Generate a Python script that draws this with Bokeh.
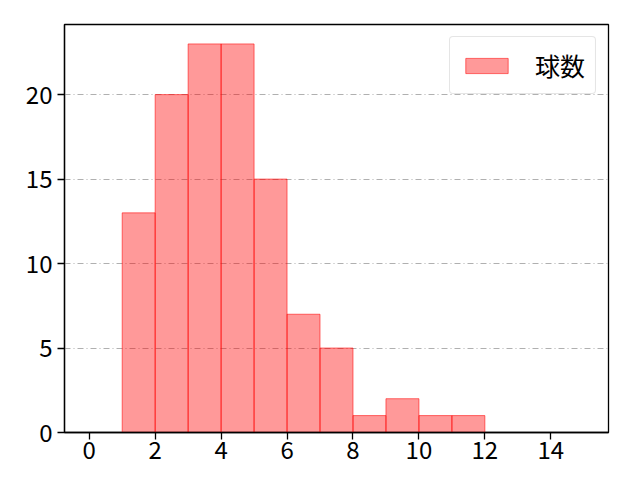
from bokeh.plotting import figure
from bokeh.models import Range1d, Legend, LegendItem, FixedTicker
from bokeh.embed import file_html
from bokeh.resources import INLINE

bin_left = [1, 2, 3, 4, 5, 6, 7, 8, 9, 10, 11]
bin_right = [2, 3, 4, 5, 6, 7, 8, 9, 10, 11, 12]
counts = [13, 20, 23, 23, 15, 7, 5, 1, 2, 1, 1]
x_ticks = [0, 2, 4, 6, 8, 10, 12, 14]
y_ticks = [0, 5, 10, 15, 20]
label = "球数"

FONT = "Noto Sans CJK JP"

p = figure(width=624, height=464, output_backend="svg", toolbar_location=None,
           x_range=Range1d(-0.75, 15.75), y_range=Range1d(0, 24.15),
           min_border_left=64, min_border_right=16, min_border_top=24, min_border_bottom=32)
p.frame_width = 544
p.frame_height = 408

r = p.quad(left=bin_left, right=bin_right, bottom=0, top=counts,
           fill_color="red", fill_alpha=0.4, line_color="red", line_alpha=0.55, line_width=1)

p.xgrid.visible = False
p.ygrid.grid_line_color = "#b0b0b0"
p.ygrid.grid_line_dash = "6 3 1 3"
p.ygrid.grid_line_width = 1
p.ygrid.ticker = FixedTicker(ticks=y_ticks)

p.outline_line_color = "black"
p.outline_line_width = 1.3

for ax in (p.xaxis[0], p.yaxis[0]):
    ax.axis_line_color = "black"
    ax.axis_line_width = 1.3
    ax.major_tick_line_width = 1.3
    ax.major_tick_out = 7
    ax.major_tick_in = 0
    ax.minor_tick_line_color = None
    ax.major_label_text_font = FONT
    ax.major_label_text_font_size = "24px"
    ax.major_label_text_color = "black"
p.xaxis.ticker = FixedTicker(ticks=x_ticks)
p.yaxis.ticker = FixedTicker(ticks=y_ticks)
p.xaxis.major_label_standoff = 1
p.yaxis.major_label_standoff = 5

legend = Legend(items=[LegendItem(label=label, renderers=[r])], location="top_right")
legend.label_text_font = FONT
legend.label_text_font_size = "25px"
legend.label_text_color = "black"
legend.label_height = 26
legend.glyph_width = 53
legend.glyph_height = 19
legend.label_standoff = 22
legend.padding = 10
legend.margin = 12
legend.border_line_color = "#cccccc"
legend.border_line_width = 1
legend.border_radius = 4
legend.background_fill_alpha = 0.8
p.add_layout(legend)

open("out.html", "w").write(file_html(p, INLINE))
